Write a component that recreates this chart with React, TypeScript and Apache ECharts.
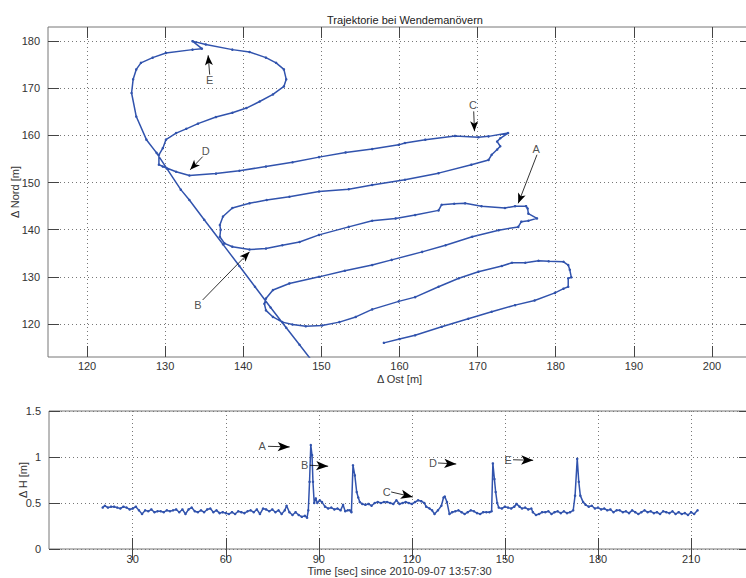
import { useEffect, useRef } from "react";
import * as echarts from "echarts";

// Trajectory: [Δ Ost, Δ Nord] in metres, in driving order
const trajectory: [number, number][] = [
  [158.0, 116.0], [160.0, 116.8], [162.0, 117.6], [165.4, 119.4], [168.8, 121.1],
  [171.8, 122.6], [174.8, 124.0], [177.3, 125.0], [179.9, 126.6], [181.0, 127.5],
  [181.6, 127.9], [181.6, 129.7], [182.0, 129.9], [181.8, 131.5], [181.6, 132.5],
  [181.0, 133.2], [179.1, 133.3], [177.8, 133.4], [176.1, 133.0], [174.4, 133.0],
  [173.1, 132.3], [170.1, 131.1], [167.6, 129.7], [165.0, 127.9], [162.0, 125.7],
  [159.9, 124.8], [156.5, 123.1], [154.4, 121.5], [152.3, 120.4], [150.1, 119.7],
  [148.0, 119.5], [146.3, 119.9], [145.0, 120.4], [143.8, 121.5], [142.9, 122.9],
  [142.7, 124.3], [142.9, 125.4], [143.8, 127.2], [145.9, 128.6], [149.7, 130.0],
  [153.0, 131.3], [156.5, 132.5], [159.0, 133.6], [162.9, 135.3], [165.9, 136.7],
  [169.3, 138.5], [172.7, 139.9], [175.2, 140.6], [175.6, 141.7], [176.5, 141.9],
  [177.6, 142.4], [176.5, 143.4], [176.4, 144.5], [176.2, 145.0], [174.8, 145.0],
  [173.5, 144.6], [170.5, 145.0], [168.4, 145.6], [167.0, 145.5], [165.4, 145.3],
  [165.0, 144.1], [162.0, 143.1], [159.5, 142.4], [156.5, 141.9], [153.5, 140.6],
  [149.7, 138.9], [147.2, 137.4], [145.0, 136.7], [142.9, 136.0], [140.8, 135.8],
  [138.6, 136.4], [137.6, 137.1], [137.0, 138.5], [137.1, 140.0], [137.0, 141.0],
  [137.4, 142.8], [138.6, 144.6], [140.8, 145.6], [143.0, 146.3], [145.9, 147.0],
  [149.7, 148.1], [153.5, 148.6], [156.5, 149.5], [160.7, 150.6], [165.0, 152.0],
  [169.2, 153.8], [171.4, 154.8], [171.8, 155.9], [172.5, 157.0], [172.9, 157.7],
  [172.5, 158.7], [172.9, 159.4], [173.9, 160.5], [171.4, 159.8], [170.1, 159.6],
  [167.1, 159.9], [163.3, 159.1], [160.7, 158.4], [159.9, 158.0], [156.5, 157.1],
  [153.1, 156.4], [149.7, 155.4], [146.3, 154.3], [142.9, 153.4], [139.5, 152.5],
  [136.5, 151.9], [133.1, 151.5], [131.4, 152.3], [129.7, 153.4], [129.2, 153.8],
  [129.2, 155.9], [129.7, 157.3], [130.1, 159.1], [131.4, 160.5], [132.7, 161.4],
  [134.2, 162.5], [136.5, 163.9], [138.6, 164.8], [140.4, 165.8], [142.1, 167.2],
  [143.8, 168.7], [145.2, 170.4], [145.5, 171.9], [145.2, 174.0], [144.2, 175.4],
  [142.9, 176.5], [140.8, 177.7], [138.6, 178.2], [135.2, 179.3], [133.5, 180.0],
  [134.7, 178.4], [133.5, 178.2], [130.1, 177.5], [128.4, 176.5], [126.9, 175.4],
  [126.3, 174.0], [125.9, 171.9], [125.7, 169.0], [126.3, 164.0], [127.6, 159.1],
  [128.9, 156.3], [130.2, 153.0], [132.0, 148.5], [133.1, 146.3], [135.0, 142.1],
  [137.4, 136.9], [139.5, 132.3], [141.5, 127.9], [143.5, 123.5], [145.5, 119.2],
  [147.2, 115.6], [148.6, 112.6],
];

// Height deviation: [time s, ΔH m]
const heightSamples: [number, number][] = [
  [20.3, 0.45], [21, 0.47], [22, 0.45], [23, 0.46], [24, 0.46], [25, 0.45], [26, 0.44], [27, 0.46], [28, 0.45], [29, 0.43],
  [30, 0.44], [31, 0.46], [32, 0.42], [33, 0.38], [34, 0.42], [35, 0.41], [36, 0.43], [37, 0.40], [38, 0.41], [39, 0.41],
  [40, 0.40], [41, 0.42], [42, 0.41], [43, 0.42], [44, 0.43], [45, 0.40], [46, 0.43], [47, 0.38], [48, 0.43], [49, 0.45],
  [50, 0.41], [51, 0.40], [52, 0.42], [53, 0.40], [54, 0.43], [55, 0.44], [56, 0.40], [57, 0.42], [58, 0.39], [59, 0.40],
  [60, 0.39], [61, 0.38], [62, 0.40], [63, 0.38], [64, 0.41], [65, 0.40], [66, 0.39], [67, 0.41], [68, 0.42], [69, 0.40],
  [70, 0.43], [71, 0.38], [72, 0.44], [73, 0.43], [74, 0.41], [75, 0.43], [76, 0.40], [77, 0.42], [78, 0.38], [79, 0.42],
  [79.6, 0.47], [80.5, 0.40], [81.5, 0.37], [82.5, 0.40], [83.5, 0.37], [84.5, 0.35], [85.5, 0.36], [86.2, 0.34], [86.6, 0.42],
  [87.0, 0.73], [87.4, 1.13], [87.8, 1.02], [88.1, 0.73], [88.5, 0.50], [89, 0.55], [89.5, 0.50], [90.3, 0.53], [91, 0.51],
  [92, 0.46], [93, 0.44], [94, 0.45], [95, 0.43], [96, 0.44], [97, 0.42], [97.8, 0.48], [98.5, 0.41], [99.3, 0.42], [100, 0.42],
  [100.5, 0.40], [101.0, 0.91], [101.6, 0.80], [102.2, 0.62], [102.7, 0.56], [103.2, 0.51], [104, 0.49], [105, 0.48],
  [106, 0.49], [107, 0.47], [108, 0.50], [109, 0.51], [110, 0.50], [111, 0.51], [112, 0.51], [113, 0.50], [114, 0.49],
  [115, 0.53], [116, 0.49], [117, 0.50], [118, 0.51], [119, 0.50], [120, 0.49], [121, 0.51], [122, 0.53], [123, 0.52],
  [124, 0.50], [124.6, 0.46], [125.7, 0.44], [126.5, 0.42], [127.3, 0.38], [128.4, 0.42], [129.5, 0.47], [130.2, 0.56],
  [130.6, 0.57], [131.3, 0.51], [132.1, 0.38], [133, 0.40], [134, 0.41], [135, 0.42], [136, 0.40], [137, 0.38], [138, 0.40],
  [139, 0.42], [140, 0.41], [141, 0.39], [142, 0.38], [143, 0.40], [144, 0.40], [145, 0.40], [145.7, 0.41], [146.1, 0.93],
  [146.6, 0.76], [147.0, 0.62], [147.5, 0.50], [148, 0.45], [149, 0.44], [150, 0.46], [151, 0.45], [152, 0.44], [153, 0.46],
  [153.7, 0.49], [154.7, 0.46], [155.5, 0.44], [156.5, 0.45], [157.5, 0.43], [158.5, 0.44], [159, 0.40], [160, 0.37],
  [161, 0.38], [162, 0.40], [163, 0.40], [164, 0.41], [165, 0.38], [166, 0.40], [167, 0.41], [168, 0.39], [169, 0.41],
  [170, 0.39], [171, 0.40], [172, 0.42], [172.6, 0.58], [173.3, 0.98], [173.8, 0.73], [174.3, 0.58], [175.2, 0.51],
  [176, 0.48], [177, 0.46], [178, 0.47], [179, 0.44], [180, 0.45], [181, 0.43], [182, 0.44], [183, 0.42], [184, 0.43],
  [185, 0.40], [186, 0.42], [187, 0.42], [188, 0.40], [189, 0.41], [190, 0.39], [191, 0.42], [192, 0.40], [193, 0.38],
  [194, 0.40], [195, 0.42], [196, 0.40], [197, 0.41], [198, 0.39], [199, 0.40], [200, 0.38], [201, 0.41], [202, 0.40],
  [203, 0.39], [204, 0.41], [205, 0.38], [206, 0.40], [207, 0.38], [208, 0.39], [209, 0.37], [210, 0.40], [211, 0.38],
  [212.1, 0.42],
];

const eastTicks = [120, 130, 140, 150, 160, 170, 180, 190, 200];
const northTicks = [120, 130, 140, 150, 160, 170, 180];
const timeTicks = [30, 60, 90, 120, 150, 180, 210];
const heightTicks = [0, 0.5, 1, 1.5];

// Annotations: label position, arrow start, arrow tip (data coordinates)
const topLabels = ["A", "B", "C", "D", "E"];
const topLabelPos: [number, number][] = [[177.5, 157.1], [134.2, 124.0], [169.4, 166.5], [135.2, 156.8], [135.7, 171.7]];
const topArrowFrom: [number, number][] = [[177.6, 155.9], [134.8, 125.1], [169.5, 165.1], [134.8, 155.5], [135.7, 172.9]];
const topArrowTo: [number, number][] = [[175.2, 145.6], [140.8, 135.3], [169.6, 160.9], [133.2, 152.7], [135.5, 177.0]];

const bottomLabels = ["A", "B", "C", "D", "E"];
const bottomLabelPos: [number, number][] = [[71.7, 1.116], [85.4, 0.91], [111.9, 0.62], [126.8, 0.935], [151.0, 0.97]];
const bottomArrowFrom: [number, number][] = [[73.6, 1.116], [87.1, 0.91], [113.3, 0.62], [128.4, 0.935], [152.6, 0.97]];
const bottomArrowTo: [number, number][] = [[80.6, 1.11], [93.0, 0.90], [120.3, 0.565], [134.3, 0.924], [159.1, 0.964]];

const FONT = "'Liberation Sans', Arial, sans-serif";
const LINE_COLOR = "#3153ad";
const TEXT_COLOR = "#333";

function valueAxis(opts: any) {
  const { ticks, min, max, gridIndex, position, name, nameGap, labels, labelMargin } = opts;
  return {
    type: "value",
    gridIndex,
    position,
    min,
    max,
    name: name || "",
    nameLocation: "middle",
    nameGap,
    nameMoveOverlap: false,
    nameTextStyle: { fontFamily: FONT, fontSize: 11, color: TEXT_COLOR },
    axisLine: { show: false },
    axisTick: {
      show: true,
      inside: true,
      length: 11,
      customValues: ticks,
      lineStyle: { color: "#444", width: 1 },
    },
    axisLabel: {
      show: labels,
      customValues: ticks,
      fontFamily: FONT,
      fontSize: 11,
      color: TEXT_COLOR,
      margin: labelMargin ?? 5,
    },
    splitLine: labels
      ? { show: true, lineStyle: { type: [1, 3], color: "#777", width: 1 } }
      : { show: false },
  };
}

export default function App() {
  const ref = useRef<HTMLDivElement>(null);

  useEffect(() => {
    if (!ref.current) return;
    document.body.style.overflow = "hidden";
    const chart = echarts.init(ref.current, undefined, { renderer: "svg" });

    const arrowLine = (from: [number, number][], to: [number, number][], size: number[]) => ({
      silent: true,
      symbol: ["none", "arrow"],
      symbolSize: size,
      label: { show: false },
      lineStyle: { color: "#000", width: 0.8, type: "solid" },
      emphasis: { disabled: true },
      data: from.map((f, i) => [{ coord: f }, { coord: to[i] }]),
    });

    const labelSeries = (names: string[], pos: [number, number][], xi: number, yi: number) => ({
      type: "scatter",
      xAxisIndex: xi,
      yAxisIndex: yi,
      silent: true,
      symbolSize: 1,
      itemStyle: { color: "rgba(0,0,0,0)" },
      label: {
        show: true,
        position: "inside",
        formatter: (p: any) => p.name,
        fontFamily: FONT,
        fontSize: 11,
        color: "#222",
      },
      data: names.map((n, i) => ({ name: n, value: pos[i] })),
    });

    chart.setOption({
      animation: false,
      backgroundColor: "#fff",
      title: {
        text: "Trajektorie bei Wendemanövern",
        left: 400,
        top: 9,
        textAlign: "center",
        textStyle: { fontFamily: FONT, fontSize: 11, fontWeight: "normal", color: "#222" },
      },
      grid: [
        { left: 48, top: 27, width: 703, height: 330, show: true, borderColor: "#777", borderWidth: 1, outerBoundsMode: "none", containLabel: false },
        { left: 49, top: 411, width: 701, height: 138, show: true, borderColor: "#777", borderWidth: 1, outerBoundsMode: "none", containLabel: false },
      ],
      xAxis: [
        valueAxis({ ticks: eastTicks, min: 115, max: 205, gridIndex: 0, position: "bottom", name: "Δ Ost [m]", nameGap: 16, labels: true, labelMargin: 3 }),
        valueAxis({ ticks: eastTicks, min: 115, max: 205, gridIndex: 0, position: "top", labels: false }),
        valueAxis({ ticks: timeTicks, min: 3, max: 229, gridIndex: 1, position: "bottom", name: "Time [sec] since 2010-09-07 13:57:30", nameGap: 16, labels: true, labelMargin: 4 }),
        valueAxis({ ticks: timeTicks, min: 3, max: 229, gridIndex: 1, position: "top", labels: false }),
      ],
      yAxis: [
        valueAxis({ ticks: northTicks, min: 113, max: 183, gridIndex: 0, position: "left", name: "Δ Nord [m]", nameGap: 28, labels: true, labelMargin: 8 }),
        valueAxis({ ticks: northTicks, min: 113, max: 183, gridIndex: 0, position: "right", labels: false }),
        valueAxis({ ticks: heightTicks, min: 0, max: 1.5, gridIndex: 1, position: "left", name: "Δ H [m]", nameGap: 21, labels: true, labelMargin: 8 }),
        valueAxis({ ticks: heightTicks, min: 0, max: 1.5, gridIndex: 1, position: "right", labels: false }),
      ],
      series: [
        {
          type: "line",
          xAxisIndex: 0,
          yAxisIndex: 0,
          data: trajectory,
          symbol: "circle",
          symbolSize: 2.5,
          showSymbol: true,
          clip: true,
          lineStyle: { color: LINE_COLOR, width: 1.5 },
          itemStyle: { color: LINE_COLOR },
          silent: true,
          markLine: arrowLine(topArrowFrom, topArrowTo, [6, 10]),
        },
        labelSeries(topLabels, topLabelPos, 0, 0),
        {
          type: "line",
          xAxisIndex: 2,
          yAxisIndex: 2,
          data: heightSamples,
          symbol: "circle",
          symbolSize: 2.5,
          showSymbol: true,
          clip: true,
          lineStyle: { color: LINE_COLOR, width: 1.5 },
          itemStyle: { color: LINE_COLOR },
          silent: true,
          markLine: arrowLine(bottomArrowFrom, bottomArrowTo, [7, 12]),
        },
        labelSeries(bottomLabels, bottomLabelPos, 2, 2),
      ],
    });

    return () => chart.dispose();
  }, []);

  return (
    <div
      ref={ref}
      style={{ position: "fixed", left: 0, top: 0, width: 760, height: 578 }}
    />
  );
}
